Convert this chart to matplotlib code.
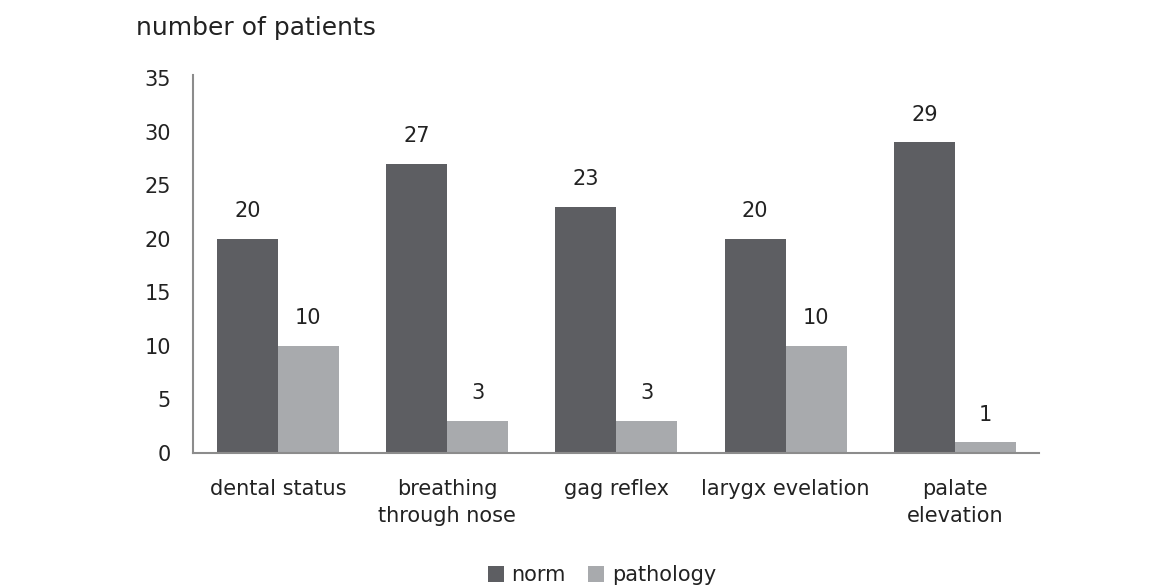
import matplotlib
matplotlib.use("Agg")
import matplotlib.pyplot as plt
import numpy as np

categories = ["dental status", "breathing\nthrough nose", "gag reflex", "larygx evelation", "palate\nelevation"]
norm = [20, 27, 23, 20, 29]
pathology = [10, 3, 3, 10, 1]
series_names = ["norm", "pathology"]
yticks = [0, 5, 10, 15, 20, 25, 30, 35]

plt.rcParams['font.family'] = ['DejaVu Sans']
dark = "#5d5e62"
light = "#a8aaad"
txt = "#222222"
fs = 15

fig = plt.figure(figsize=(11.64, 5.88), dpi=100)
ax = fig.add_axes([0.166, 0.2296, 0.727, 0.643])
x = np.arange(len(categories))
w = 0.36
b1 = ax.bar(x - w/2, norm, w, color=dark, label=series_names[0])
b2 = ax.bar(x + w/2, pathology, w, color=light, label=series_names[1])
for bars, vals in ((b1, norm), (b2, pathology)):
    for r, v in zip(bars, vals):
        ax.annotate(str(v), (r.get_x() + r.get_width()/2, v), xytext=(0, 20),
                    textcoords="offset points", ha="center", va="center",
                    fontsize=fs, color=txt)
ax.set_xlim(-0.5, 4.5)
ax.set_ylim(0, 35.3)
ax.set_yticks(yticks)
ax.set_xticks(x)
ax.set_xticklabels(categories, fontsize=fs, color=txt, linespacing=1.4)
ax.tick_params(axis='y', length=0, pad=16, labelsize=fs, labelcolor=txt)
ax.tick_params(axis='x', length=0, pad=19)
for s in ("top", "right"):
    ax.spines[s].set_visible(False)
for s in ("left", "bottom"):
    ax.spines[s].set_color("#8c8c8c")
    ax.spines[s].set_linewidth(1.5)
fig.text(0.117, 0.953, "number of patients", fontsize=18, color="#222222", va="center", ha="left")
fig.legend(handles=[b1, b2], labels=series_names, loc="center", bbox_to_anchor=(0.517, 0.022),
           ncol=2, frameon=False, fontsize=fs, handlelength=0.8, handleheight=0.8,
           handletextpad=0.35, columnspacing=1.05, labelcolor=txt)
fig.savefig("out.png", dpi=100)
